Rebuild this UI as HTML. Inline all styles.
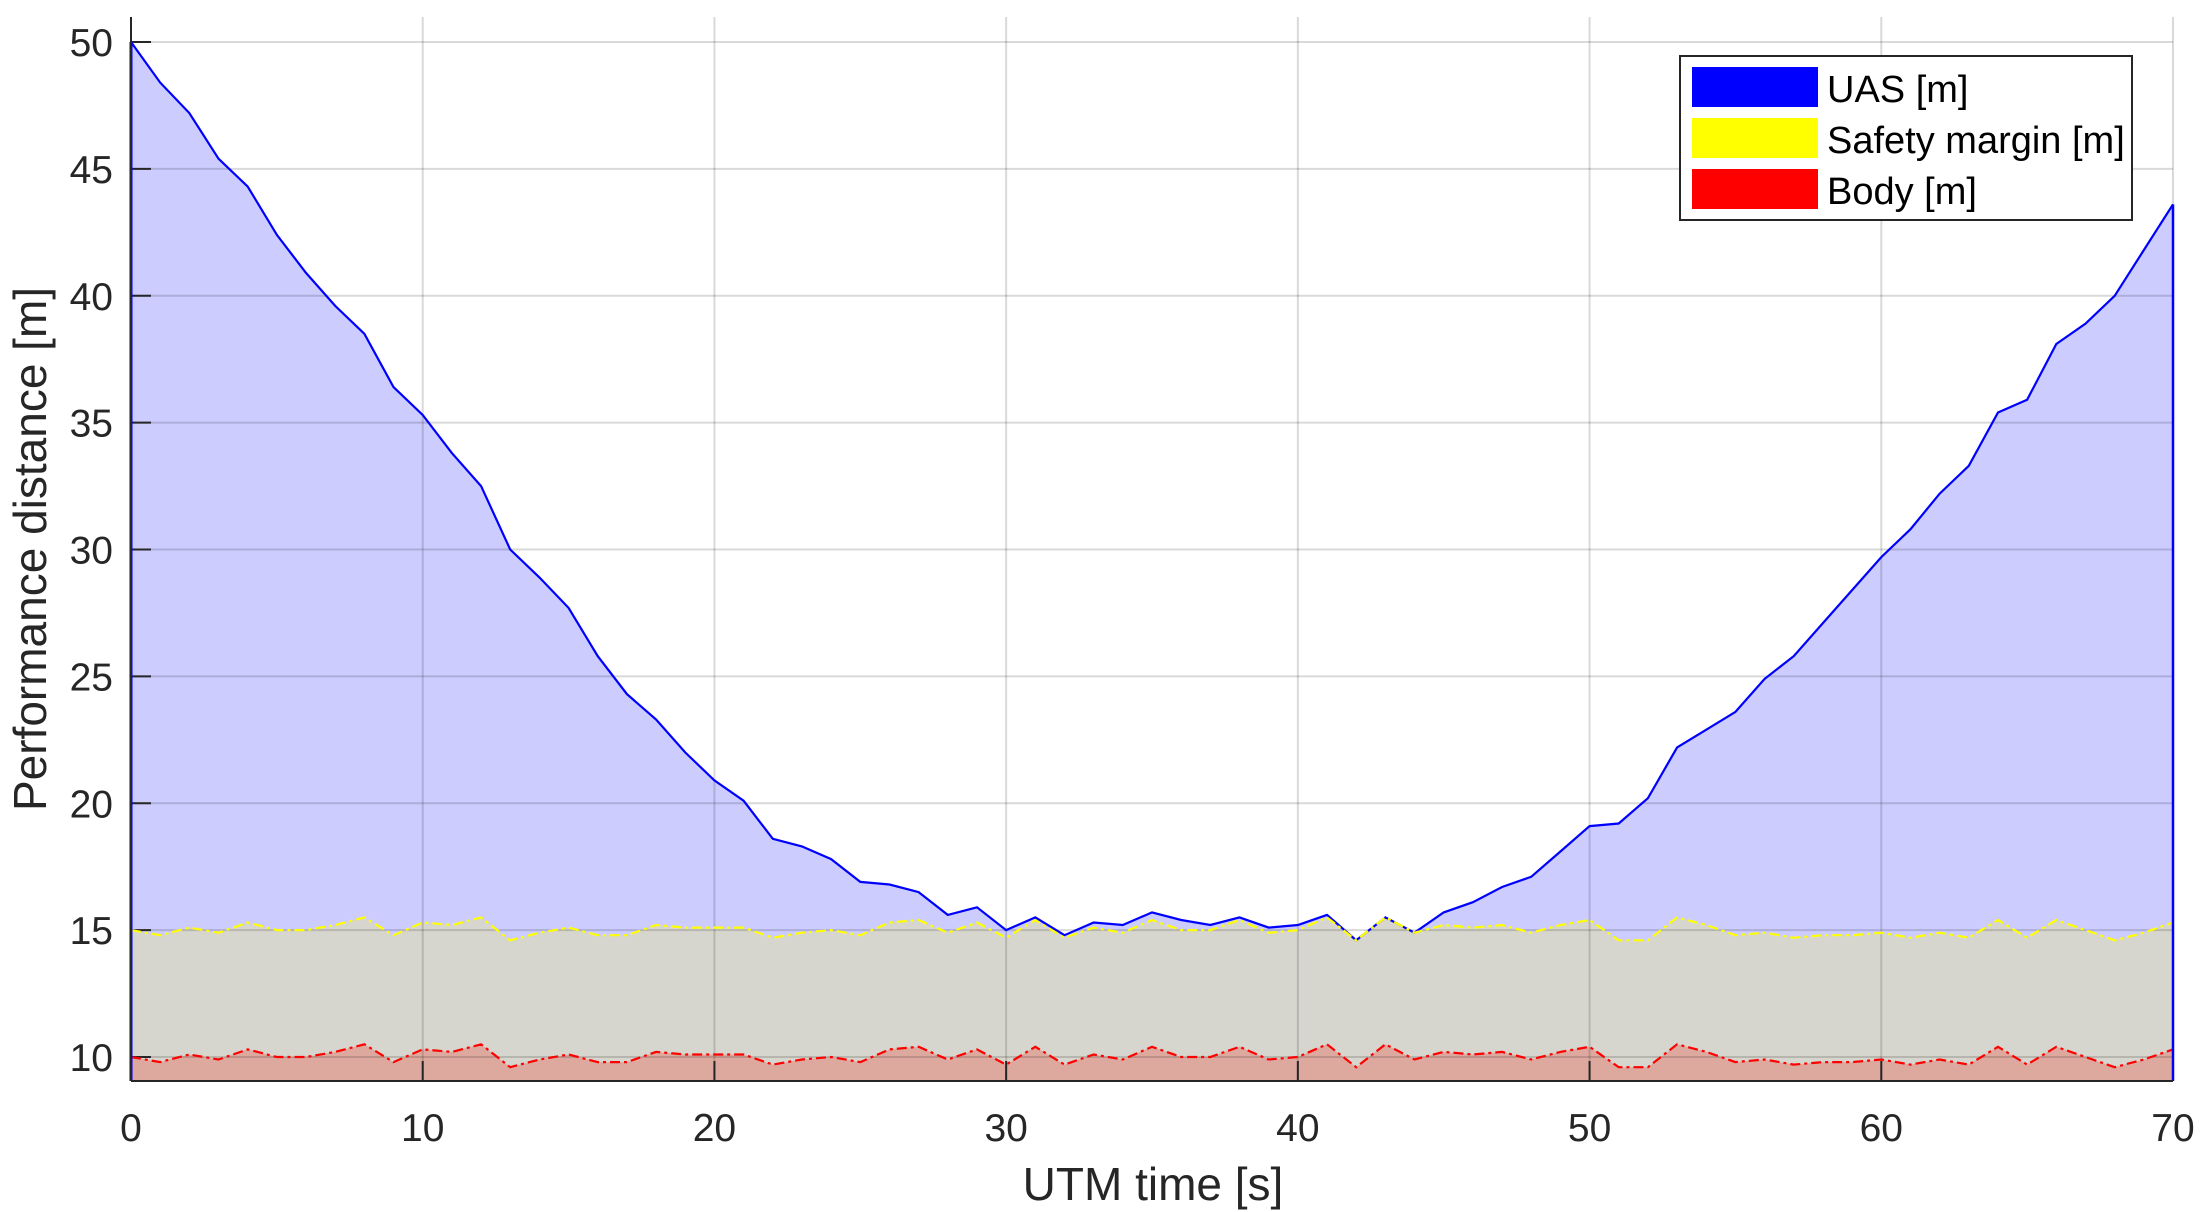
<!DOCTYPE html>
<html><head><meta charset="utf-8"><style>
html,body{margin:0;padding:0;background:#fff;}
svg{display:block;font-family:"Liberation Sans",Arial,sans-serif;}
</style></head><body>
<svg id="chart" width="2208" height="1212" viewBox="0 0 2208 1212" xmlns="http://www.w3.org/2000/svg"></svg>
<script>
const times = [0,1,2,3,4,5,6,7,8,9,10,11,12,13,14,15,16,17,18,19,20,21,22,23,24,25,26,27,28,29,30,31,32,33,34,35,36,37,38,39,40,41,42,43,44,45,46,47,48,49,50,51,52,53,54,55,56,57,58,59,60,61,62,63,64,65,66,67,68,69,70];
const uasValues = [50,48.4,47.2,45.4,44.3,42.4,40.9,39.6,38.5,36.4,35.3,33.8,32.5,30,28.9,27.7,25.8,24.3,23.3,22,20.9,20.1,18.6,18.3,17.8,16.9,16.8,16.5,15.6,15.9,15,15.5,14.8,15.3,15.2,15.7,15.4,15.2,15.5,15.1,15.2,15.6,14.6,15.5,14.9,15.7,16.1,16.7,17.1,18.1,19.1,19.2,20.2,22.2,22.9,23.6,24.9,25.8,27.1,28.4,29.7,30.8,32.2,33.3,35.4,35.9,38.1,38.9,40,41.8,43.6];
const safetyValues = [15,14.8,15.1,14.9,15.3,15,15,15.2,15.5,14.8,15.3,15.2,15.5,14.6,14.9,15.1,14.8,14.8,15.2,15.1,15.1,15.1,14.7,14.9,15,14.8,15.3,15.4,14.9,15.3,14.7,15.4,14.7,15.1,14.9,15.4,15,15,15.4,14.9,15,15.5,14.6,15.5,14.9,15.2,15.1,15.2,14.9,15.2,15.4,14.6,14.6,15.5,15.2,14.8,14.9,14.7,14.8,14.8,14.9,14.7,14.9,14.7,15.4,14.7,15.4,15,14.6,14.9,15.3];
const bodyValues = [10,9.8,10.1,9.9,10.3,10,10,10.2,10.5,9.8,10.3,10.2,10.5,9.6,9.9,10.1,9.8,9.8,10.2,10.1,10.1,10.1,9.7,9.9,10,9.8,10.3,10.4,9.9,10.3,9.7,10.4,9.7,10.1,9.9,10.4,10,10,10.4,9.9,10,10.5,9.6,10.5,9.9,10.2,10.1,10.2,9.9,10.2,10.4,9.6,9.6,10.5,10.2,9.8,9.9,9.7,9.8,9.8,9.9,9.7,9.9,9.7,10.4,9.7,10.4,10,9.6,9.9,10.3];
const xTicks = [0,10,20,30,40,50,60,70];
const yTicks = [10,15,20,25,30,35,40,45,50];

const svg = document.getElementById('chart');
const NS = 'http://www.w3.org/2000/svg';
const L=131, R=2173, T=17, B=1081;
const xMin=0, xMax=70;
const xs = v => L + (v-xMin)/(xMax-xMin)*(R-L);
const ys = v => 1057 - (v-10)*25.375;
function mk(tag, attrs){const e=document.createElementNS(NS,tag);for(const k in attrs)e.setAttribute(k,attrs[k]);svg.appendChild(e);return e;}
function area(vals){let d='M'+xs(times[0])+','+B;times.forEach((t,i)=>{d+=' L'+xs(t).toFixed(1)+','+ys(vals[i]).toFixed(1);});d+=' L'+xs(times[times.length-1])+','+B+' Z';return d;}
function line(vals){return times.map((t,i)=>(i?'L':'M')+xs(t).toFixed(1)+','+ys(vals[i]).toFixed(1)).join(' ');}

let e;
e=mk('path',{d:area(uasValues),fill:'#ccccff'});


e=mk('path',{d:area(safetyValues),fill:'#d6d6ce'});


e=mk('path',{d:area(bodyValues),fill:'#dda99f'});



xTicks.forEach(t=>{
  e=mk('line',{x1:xs(t),x2:xs(t),y1:T,y2:B,stroke:'rgba(0,0,0,0.15)','stroke-width':2});
  
  
  e=mk('line',{x1:xs(t),x2:xs(t),y1:B,y2:B-20,stroke:'#262626','stroke-width':2});
  
  
  e=mk('text',{x:xs(t),y:1141,'font-size':39,fill:'#262626','text-anchor':'middle'});
  e.textContent=t;
  
  
});
yTicks.forEach(t=>{
  e=mk('line',{x1:L,x2:R,y1:ys(t),y2:ys(t),stroke:'rgba(0,0,0,0.15)','stroke-width':2});
  
  
  e=mk('line',{x1:L,x2:L+20,y1:ys(t),y2:ys(t),stroke:'#262626','stroke-width':2});
  
  
  e=mk('text',{x:113,y:ys(t)+14,'font-size':39,fill:'#262626','text-anchor':'end'});
  e.textContent=t;
  
  
});

e=mk('path',{d:line(uasValues),fill:'none',stroke:'#0000ff','stroke-width':2.2});


e=mk('path',{d:line(safetyValues),fill:'none',stroke:'#ffff00','stroke-width':2.2,'stroke-dasharray':'10,4,3,4'});


e=mk('path',{d:line(bodyValues),fill:'none',stroke:'#ff0000','stroke-width':2.2,'stroke-dasharray':'10,4,3,4'});


e=mk('line',{x1:L,x2:L,y1:ys(uasValues[0]),y2:B,stroke:'#0000ff','stroke-width':3});


e=mk('line',{x1:R,x2:R,y1:ys(uasValues[uasValues.length-1]),y2:B,stroke:'#0000ff','stroke-width':2.5});



e=mk('line',{x1:L,x2:L,y1:T,y2:B,stroke:'#262626','stroke-width':2});


e=mk('line',{x1:L,x2:R,y1:B,y2:B,stroke:'#262626','stroke-width':2});



e=mk('text',{x:1153,y:1200,'font-size':46,fill:'#262626','text-anchor':'middle'});
e.textContent='UTM time [s]';


e=mk('text',{x:0,y:0,'font-size':46,fill:'#262626','text-anchor':'middle',transform:'translate(46,549) rotate(-90)'});
e.textContent='Performance distance [m]';



const g=document.createElementNS(NS,'g');svg.appendChild(g);


function lg(tag,attrs){const el=document.createElementNS(NS,tag);for(const k in attrs)el.setAttribute(k,attrs[k]);g.appendChild(el);return el;}
lg('rect',{x:1680,y:56,width:452,height:164,fill:'#fff',stroke:'#262626','stroke-width':2});
const entries=[['UAS [m]','#0000ff',67,'legend-entry-uas'],['Safety margin [m]','#ffff00',118,'legend-entry-safety-margin'],['Body [m]','#ff0000',169,'legend-entry-body']];
entries.forEach(en=>{
  const eg=document.createElementNS(NS,'g');g.appendChild(eg);
  
  
  const r=document.createElementNS(NS,'rect');
  r.setAttribute('x',1692);r.setAttribute('y',en[2]);r.setAttribute('width',126);r.setAttribute('height',40);r.setAttribute('fill',en[1]);
  eg.appendChild(r);
  const t=document.createElementNS(NS,'text');
  t.setAttribute('x',1827);t.setAttribute('y',en[2]+35);t.setAttribute('font-size',38);t.setAttribute('fill','#000');
  t.textContent=en[0];
  eg.appendChild(t);
});
</script>
</body></html>
